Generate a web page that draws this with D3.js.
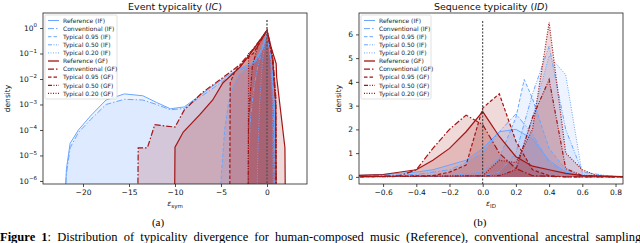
<!DOCTYPE html>
<html>
<meta charset="utf-8">
<head>
    <script src="https://d3js.org/d3.v7.min.js"></script>
    <style>
        body { margin: 0; background: #fff; }
        text { font-family: "DejaVu Sans", sans-serif; }
    </style>
</head>
<body>
    <div id="my_dataviz"></div>
</body>

<script>
    // legend labels, same order for both panels
    const seriesNames = ["Reference (IF)", "Conventional (IF)", "Typical 0.95 (IF)", "Typical 0.50 (IF)", "Typical 0.20 (IF)",
                         "Reference (GF)", "Conventional (GF)", "Typical 0.95 (GF)", "Typical 0.50 (GF)", "Typical 0.20 (GF)"];

    // ---- panel (a): event typicality, eps_sym vs density (log) ----
    const evRefIF_x  = [-22, -21.8, -21.4, -20.5, -19.2, -17.5, -15.5, -13.5, -12, -10.5, -9, -7.5, -6, -4.5, -3, -1.5, -0.5, 0, 0.5, 0.8, 0.9, 1.0];
    const evRefIF_y  = [1e-7, 3e-6, 3e-5, 1e-4, 3.5e-4, 1.5e-3, 2.6e-3, 2.2e-3, 1.2e-3, 6.8e-4, 8e-4, 2e-3, 5e-3, 1.2e-2, 2.5e-2, 4.5e-2, 0.15, 0.7, 0.05, 1e-3, 1e-5, 1e-7];
    const evConvIF_x = [-22, -21.8, -21.4, -20.5, -19.2, -17.5, -15.5, -13.5, -12, -10.5, -9, -7.5, -6, -4.5, -3, -1.5, -0.5, 0, 0.5, 0.8, 0.9, 1.0];
    const evConvIF_y = [1e-7, 2e-6, 2e-5, 8e-5, 2.5e-4, 1e-3, 1.6e-3, 1.5e-3, 1e-3, 6.2e-4, 7e-4, 1.7e-3, 4e-3, 1e-2, 2.2e-2, 4e-2, 0.14, 0.65, 0.04, 8e-4, 1e-5, 1e-7];
    const ev95IF_x   = [-5.1, -5, -4.6, -4.2, -3.7, -3, -2, -1, 0, 0.5, 0.8, 0.95];
    const ev95IF_y   = [1e-7, 1e-6, 1e-4, 1e-3, 5e-3, 1.5e-2, 3e-2, 6e-2, 0.7, 0.05, 1e-3, 1e-7];
    const ev50IF_x   = [-2.1, -2, -1.8, -1.4, -1, -0.5, 0, 0.4, 0.7, 0.8];
    const ev50IF_y   = [1e-7, 1e-5, 3e-4, 5e-3, 3e-2, 0.15, 0.75, 0.1, 1e-3, 1e-7];
    const ev20IF_x   = [-1.1, -1, -0.8, -0.5, 0, 0.4, 0.6, 0.7];
    const ev20IF_y   = [1e-7, 1e-5, 1e-3, 0.05, 0.8, 0.05, 1e-3, 1e-7];
    const evRefGF_x  = [-10.05, -10, -9.1, -7.3, -5.9, -4.8, -2.9, -1.5, 0, 0.5, 1.0, 1.05, 1.95, 2.0];
    const evRefGF_y  = [1e-7, 2.1e-5, 8.3e-5, 4e-4, 1.5e-3, 7e-3, 3e-2, 0.14, 0.83, 0.15, 0.04, 0.012, 2e-5, 1e-7];
    const evConvGF_x = [-14.05, -14, -13, -12.2, -10, -9, -7, -5, -3, -1.5, 0, 0.6, 0.95, 1.0];
    const evConvGF_y = [1e-7, 2e-5, 2e-5, 1.6e-4, 1.3e-4, 6e-4, 3e-3, 1e-2, 3.5e-2, 0.15, 0.8, 0.1, 2e-3, 1e-7];
    const ev95GF_x   = [-4.05, -4, -3.5, -2.5, -1.5, 0, 0.6, 0.95, 1.0];
    const ev95GF_y   = [1e-7, 7e-3, 2e-2, 5e-2, 0.1, 0.8, 0.06, 1e-3, 1e-7];
    const ev50GF_x   = [-2.05, -2, -1.6, -1, 0, 0.6, 0.95, 1.0];
    const ev50GF_y   = [1e-7, 3e-4, 0.03, 0.2, 0.8, 0.07, 1e-3, 1e-7];
    const ev20GF_x   = [-2.05, -2, -1.5, -0.8, 0, 0.6, 0.95, 1.0];
    const ev20GF_y   = [1e-7, 0.1, 0.15, 0.3, 0.8, 0.07, 2e-3, 1e-7];

    // ---- panel (b): sequence typicality, eps_ID vs density ----
    const sqRefIF_x  = [-0.8, -0.6, -0.4, -0.3, -0.2, -0.1, 0, 0.1, 0.2, 0.3, 0.4, 0.5, 0.6, 0.8];
    const sqRefIF_y  = [0.05, 0.1, 0.2, 0.3, 0.5, 0.7, 1.2, 1.9, 2.0, 1.6, 0.7, 0.2, 0.05, 0];
    const sqConvIF_x = [-0.8, -0.4, -0.2, -0.1, 0, 0.1, 0.2, 0.3, 0.4, 0.5, 0.6, 0.8];
    const sqConvIF_y = [0.05, 0.1, 0.3, 0.6, 1.0, 1.9, 2.65, 1.8, 0.6, 0.2, 0.05, 0];
    const sq95IF_x   = [-0.8, -0.2, 0, 0.1, 0.2, 0.25, 0.3, 0.4, 0.5, 0.6, 0.8];
    const sq95IF_y   = [0, 0.05, 0.2, 0.8, 2.5, 4.1, 3.3, 1.2, 0.3, 0.05, 0];
    const sq50IF_x   = [-0.8, 0, 0.1, 0.2, 0.3, 0.4, 0.5, 0.6, 0.8];
    const sq50IF_y   = [0, 0.05, 0.2, 1.0, 3.5, 5.5, 2.0, 0.2, 0];
    const sq20IF_x   = [-0.8, 0.1, 0.2, 0.3, 0.4, 0.5, 0.6, 0.7, 0.8];
    const sq20IF_y   = [0, 0.05, 0.4, 2.5, 5.1, 4.3, 0.1, 0, 0];
    const sqRefGF_x  = [-0.8, -0.6, -0.4, -0.3, -0.2, -0.1, 0, 0.1, 0.2, 0.3, 0.4, 0.5, 0.6, 0.9];
    const sqRefGF_y  = [0.05, 0.1, 0.3, 0.7, 1.2, 1.9, 2.75, 1.7, 0.85, 0.45, 0.3, 0.15, 0.05, 0];
    const sqConvGF_x = [-0.8, -0.5, -0.4, -0.3, -0.2, -0.1, 0, 0.1, 0.2, 0.3, 0.5, 0.9];
    const sqConvGF_y = [0, 0.05, 0.3, 1.2, 2.0, 2.6, 2.2, 1.0, 0.35, 0.05, 0, 0];
    const sq95GF_x   = [-0.8, -0.3, -0.2, -0.1, 0, 0.1, 0.2, 0.3, 0.4, 0.5, 0.9];
    const sq95GF_y   = [0, 0.05, 0.2, 0.5, 2.9, 3.5, 1.5, 0.3, 0.05, 0, 0];
    const sq50GF_x   = [-0.8, 0.1, 0.2, 0.3, 0.4, 0.5, 0.6, 0.9];
    const sq50GF_y   = [0, 0.05, 0.3, 2.5, 4.1, 0.35, 0.05, 0];
    const sq20GF_x   = [-0.8, 0, 0.1, 0.2, 0.3, 0.4, 0.5, 0.6, 0.7, 0.9];
    const sq20GF_y   = [0, 0.05, 0.7, 0.6, 2.0, 6.5, 1.0, 0.3, 0.02, 0];

    const evTicksX = [-20, -15, -10, -5, 0];
    const evTicksY = [1e-6, 1e-5, 1e-4, 1e-3, 1e-2, 1e-1, 1];
    const evTickExp = ["−6", "−5", "−4", "−3", "−2", "−1", "0"];
    const sqTicksX = [-0.6, -0.4, -0.2, 0.0, 0.2, 0.4, 0.6, 0.8];
    const sqTicksY = [0, 1, 2, 3, 4, 5, 6];

    const blue = "#6aa6ff", red = "#a31515";
    const dashes = ["", "6,2,1.5,2", "3.5,2", "4,1.5,1,1.5,1,1.5", "1,1.5"];

    const W = 640, H = 243;
    const svg = d3.select("#my_dataviz")
        .append("svg")
            .attr("width", W)
            .attr("height", H)
            .style("display", "block");

    function panel(opt) {
        const g = svg.append("g");
        const x = d3.scaleLinear().domain(opt.xdom).range([opt.left, opt.right]);
        const y = opt.log
            ? d3.scaleLog().domain(opt.ydom).range([opt.bottom, opt.top])
            : d3.scaleLinear().domain(opt.ydom).range([opt.bottom, opt.top]);

        const clipId = "clip" + opt.id;
        g.append("clipPath").attr("id", clipId)
            .append("rect")
                .attr("x", opt.left).attr("y", opt.top)
                .attr("width", opt.right - opt.left).attr("height", opt.bottom - opt.top);

        const plot = g.append("g").attr("clip-path", `url(#${clipId})`);
        const base = opt.log ? 1e-7 : 0;

        opt.series.forEach((s, i) => {
            const pts = s.x.map((v, k) => [v, s.y[k]]);
            const col = i < 5 ? blue : red;
            plot.append("path")
                .datum(pts)
                .attr("fill", col)
                .attr("fill-opacity", i < 5 ? 0.12 : 0.16)
                .attr("d", d3.area().x(d => x(d[0])).y0(y(base)).y1(d => y(Math.max(d[1], base))));
        });
        opt.series.forEach((s, i) => {
            const pts = s.x.map((v, k) => [v, s.y[k]]);
            const col = i < 5 ? blue : red;
            plot.append("path")
                .datum(pts)
                .attr("fill", "none")
                .attr("stroke", col)
                .attr("stroke-width", i < 5 ? 1 : 1.2)
                .attr("stroke-dasharray", dashes[i % 5])
                .attr("d", d3.line().x(d => x(d[0])).y(d => y(Math.max(d[1], base))));
        });

        // dashed zero line
        g.append("line")
            .attr("x1", x(0)).attr("x2", x(0))
            .attr("y1", opt.zeroTop).attr("y2", opt.bottom)
            .attr("stroke", opt.zeroCol).attr("stroke-width", opt.zeroW)
            .attr("stroke-dasharray", "2,1.5");

        // frame
        g.append("rect")
            .attr("x", opt.left).attr("y", opt.top)
            .attr("width", opt.right - opt.left).attr("height", opt.bottom - opt.top)
            .attr("fill", "none").attr("stroke", "#222").attr("stroke-width", 0.8);

        // axes
        const xa = g.append("g")
            .attr("transform", `translate(0,${opt.bottom})`)
            .call(d3.axisBottom(x).tickValues(opt.xticks).tickSize(3).tickFormat(opt.xfmt));
        const ya = g.append("g")
            .attr("transform", `translate(${opt.left},0)`)
            .call(d3.axisLeft(y).tickValues(opt.yticks).tickSize(3).tickFormat(opt.log ? "" : d3.format("d")));
        [xa, ya].forEach(a => {
            a.select(".domain").remove();
            a.selectAll("line").attr("stroke", "#222").attr("stroke-width", 0.8);
            a.selectAll("text").attr("font-size", 7.5).attr("fill", "#111");
        });
        if (opt.log) {
            const t = ya.selectAll(".tick text").text("");
            t.append("tspan").text("10");
            t.append("tspan").attr("dy", -3.5).attr("font-size", 5.5).text((d, k) => evTickExp[k]);
        }

        // title and labels
        const cx = (opt.left + opt.right) / 2;
        g.append("text").attr("x", cx).attr("y", 9.5).attr("text-anchor", "middle")
            .attr("font-size", 9.5).attr("fill", "#111")
            .call(t => {
                t.append("tspan").text(opt.title + " (");
                t.append("tspan").attr("font-style", "italic").text(opt.titleItalic);
                t.append("tspan").text(")");
            });
        g.append("text").attr("x", cx).attr("y", 206).attr("text-anchor", "middle")
            .attr("font-size", 7.5).attr("font-style", "italic").attr("fill", "#111")
            .call(t => {
                t.append("tspan").text("ε");
                t.append("tspan").attr("dy", 1.8).attr("font-size", 5.5).attr("font-style", "normal").text(opt.xsub);
            });
        g.append("text")
            .attr("transform", `translate(${opt.left - opt.ylabOff},${(opt.top + opt.bottom) / 2}) rotate(-90)`)
            .attr("text-anchor", "middle").attr("font-size", 7.5).attr("fill", "#111")
            .text("density");

        // legend
        const lg = g.append("g").attr("transform", `translate(${opt.left + 2},${opt.top + 2})`);
        lg.append("rect").attr("width", opt.legW).attr("height", 84)
            .attr("rx", 1.5).attr("fill", "#fff").attr("fill-opacity", 0.85)
            .attr("stroke", "#ccc").attr("stroke-width", 0.6);
        seriesNames.forEach((n, i) => {
            const yy = 5.5 + i * 8.1;
            lg.append("line").attr("x1", 3).attr("x2", 14).attr("y1", yy).attr("y2", yy)
                .attr("stroke", i < 5 ? blue : red).attr("stroke-width", i < 5 ? 1 : 1.3)
                .attr("stroke-dasharray", dashes[i % 5]);
            lg.append("text").attr("x", 18).attr("y", yy + 2.2)
                .attr("font-size", 6).attr("fill", "#222").text(n);
        });
    }

    panel({
        id: "a", left: 43, right: 307, top: 13, bottom: 184,
        xdom: [-24.35, 4.35], ydom: [Math.pow(10, -6.12), Math.pow(10, 0.59)], log: true,
        series: [
            { x: evRefIF_x, y: evRefIF_y }, { x: evConvIF_x, y: evConvIF_y }, { x: ev95IF_x, y: ev95IF_y },
            { x: ev50IF_x, y: ev50IF_y }, { x: ev20IF_x, y: ev20IF_y },
            { x: evRefGF_x, y: evRefGF_y }, { x: evConvGF_x, y: evConvGF_y }, { x: ev95GF_x, y: ev95GF_y },
            { x: ev50GF_x, y: ev50GF_y }, { x: ev20GF_x, y: ev20GF_y }
        ],
        xticks: evTicksX, yticks: evTicksY, xfmt: d => d3.format("d")(d).replace("-", "−"),
        title: "Event typicality", titleItalic: "IC", xsub: "sym", zeroTop: 20, ylabOff: 33, legW: 72,
        zeroCol: "#555", zeroW: 1.4
    });

    panel({
        id: "b", left: 359, right: 623, top: 13, bottom: 184,
        xdom: [-0.745, 0.845], ydom: [-0.3, 6.9], log: false,
        series: [
            { x: sqRefIF_x, y: sqRefIF_y }, { x: sqConvIF_x, y: sqConvIF_y }, { x: sq95IF_x, y: sq95IF_y },
            { x: sq50IF_x, y: sq50IF_y }, { x: sq20IF_x, y: sq20IF_y },
            { x: sqRefGF_x, y: sqRefGF_y }, { x: sqConvGF_x, y: sqConvGF_y }, { x: sq95GF_x, y: sq95GF_y },
            { x: sq50GF_x, y: sq50GF_y }, { x: sq20GF_x, y: sq20GF_y }
        ],
        xticks: sqTicksX, yticks: sqTicksY, xfmt: d => d3.format(".1f")(d).replace("-", "−"),
        title: "Sequence typicality", titleItalic: "ID", xsub: "ID", zeroTop: 21, ylabOff: 18, legW: 70,
        zeroCol: "#222", zeroW: 0.9
    });

    // sub-captions and figure caption
    svg.append("text").attr("x", 158).attr("y", 226).attr("text-anchor", "middle")
        .style("font-family", "'Liberation Serif', serif").attr("font-size", 11).text("(a)");
    svg.append("text").attr("x", 480).attr("y", 226).attr("text-anchor", "middle")
        .style("font-family", "'Liberation Serif', serif").attr("font-size", 11).text("(b)");
    svg.append("text").attr("x", 0).attr("y", 241)
        .style("font-family", "'Liberation Serif', serif").attr("font-size", 12.5)
        .attr("word-spacing", 3)
        .call(t => {
            t.append("tspan").attr("font-weight", "bold").text("Figure 1");
            t.append("tspan").text(": Distribution of typicality divergence for human-composed music (Reference), conventional ancestral sampling");
        });
</script>
</html>
